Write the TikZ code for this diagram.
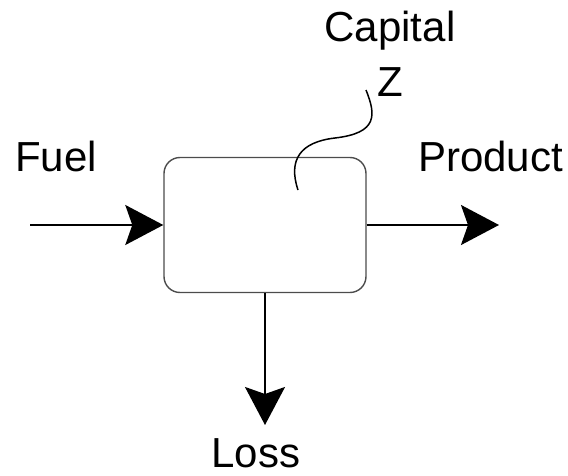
\documentclass[tikz,border=0pt]{standalone}
\usepackage{fontspec}
\setmainfont{Liberation Sans}
\usetikzlibrary{arrows.meta}
\begin{document}
\begin{tikzpicture}[x=1pt,y=-1pt,
  lbl/.style={font=\fontsize{42}{50}\selectfont, inner sep=0pt},
  flow/.style={line width=2pt, -{Stealth[length=38pt 0 0, width=40pt 0, inset=7pt 0]}},
  unit/.style={draw=black!70, line width=1.4pt, rounded corners=16pt, minimum width=202pt, minimum height=135pt, inner sep=0pt},
  wave/.style={line width=1.5pt}]
\useasboundingbox (0,0) rectangle (568,476);
\node[unit] (box) at (265,225) {};
\coordinate (fuelstart) at (30,225);
\coordinate (prodend) at (499,225);
\coordinate (lossend) at (265,425);
\coordinate (wavetop) at (366,90);
\coordinate (wavebot) at (298,190);
\draw[flow] (fuelstart) -- (box.west);
\draw[flow] (box.east) -- (prodend);
\draw[flow] (box.south) -- (lossend);
\draw[wave] (wavetop) .. controls (376,115) and (378,133) .. (335,138)
  .. controls (300,142) and (288,160) .. (wavebot);
\node[lbl, anchor=base west] (fuel) at (15,172) {Fuel};
\node[lbl, anchor=base west] (product) at (418,172) {Product};
\node[lbl, anchor=base] (loss) at (256,467) {Loss};
\node[lbl, anchor=base] (capital) at (390,42) {Capital};
\node[lbl, anchor=base] (capz) at (390,97) {Z};
\end{tikzpicture}
\end{document}
